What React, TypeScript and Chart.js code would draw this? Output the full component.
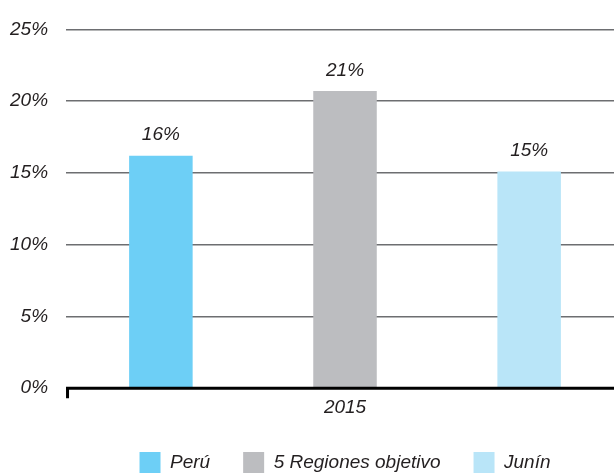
import React, { useEffect, useRef } from "react";
import { Chart, registerables } from "chart.js";

Chart.register(...registerables);

const categories = ["2015"];
const seriesNames = ["Perú", "5 Regiones objetivo", "Junín"];
const peru = [16.2];
const regiones = [20.7];
const junin = [15.1];
const valueLabels = ["16%", "21%", "15%"];
const yTicks = [0, 5, 10, 15, 20, 25];
const colors = ["#6DCFF6", "#BCBDC0", "#B9E5F8"];

const FONT = "'Liberation Sans', Arial, sans-serif";

const valueLabelPlugin = {
  id: "valueLabels",
  afterDatasetsDraw(chart: any) {
    const ctx = chart.ctx;
    ctx.save();
    ctx.font = `italic 19px ${FONT}`;
    ctx.fillStyle = "#231F20";
    ctx.textAlign = "center";
    ctx.textBaseline = "bottom";
    chart.data.datasets.forEach((ds: any, i: number) => {
      const meta = chart.getDatasetMeta(i);
      meta.data.forEach((bar: any) => {
        ctx.fillText(valueLabels[i], bar.x, bar.y - 11);
      });
    });
    ctx.restore();
  },
};

const axisTickPlugin = {
  id: "axisTick",
  afterDraw(chart: any) {
    const ctx = chart.ctx;
    const x = chart.scales.x;
    const y = chart.scales.y;
    const y0 = y.getPixelForValue(0);
    ctx.save();
    ctx.strokeStyle = "#000";
    ctx.lineWidth = 3;
    ctx.beginPath();
    ctx.moveTo(x.left + 1.5, y0);
    ctx.lineTo(x.left + 1.5, y0 + 10);
    ctx.moveTo(x.left, y0);
    ctx.lineTo(x.right, y0);
    ctx.stroke();
    ctx.restore();
  },
};

export default function App() {
  const ref = useRef<HTMLCanvasElement | null>(null);
  useEffect(() => {
    document.body.style.margin = "0";
    document.body.style.overflow = "hidden";
    const chart = new Chart(ref.current as HTMLCanvasElement, {
      type: "bar",
      data: {
        labels: categories,
        datasets: [peru, regiones, junin].map((d, i) => ({
          label: seriesNames[i],
          data: d,
          backgroundColor: colors[i],
          borderWidth: 0,
          categoryPercentage: 0.99,
          barPercentage: 0.345,
        })),
      },
      options: {
        animation: false,
        responsive: false,
        maintainAspectRatio: false,
        layout: { padding: { top: 20, left: -8, right: 0, bottom: -9 } },
        plugins: {
          legend: {
            position: "bottom",
            fullSize: false,
            labels: {
              boxWidth: 21,
              boxHeight: 21,
              padding: 33,
              color: "#231F20",
              font: { family: FONT, size: 19, style: "italic" },
            },
          },
          tooltip: { enabled: false },
        },
        scales: {
          x: {
            grid: { display: false },
            border: { display: false },
            ticks: {
              color: "#231F20",
              padding: 0,
              font: { family: FONT, size: 19, style: "italic" },
            },
          },
          y: {
            min: 0,
            max: 25,
            afterBuildTicks: (axis: any) => {
              axis.ticks = yTicks.map((v) => ({ value: v }));
            },
            grid: { color: "#6D6E71", lineWidth: 1.5, drawTicks: false },
            border: { display: false },
            ticks: {
              color: "#231F20",
              padding: 18,
              font: { family: FONT, size: 19, style: "italic" },
              callback: (v: any) => `${v}%`,
            },
          },
        },
      },
      plugins: [valueLabelPlugin, axisTickPlugin],
    });
    return () => chart.destroy();
  }, []);
  return (
    <div style={{ position: "fixed", left: 0, top: 0, width: 624, height: 474 }}>
      <canvas ref={ref} width={624} height={474} />
    </div>
  );
}
